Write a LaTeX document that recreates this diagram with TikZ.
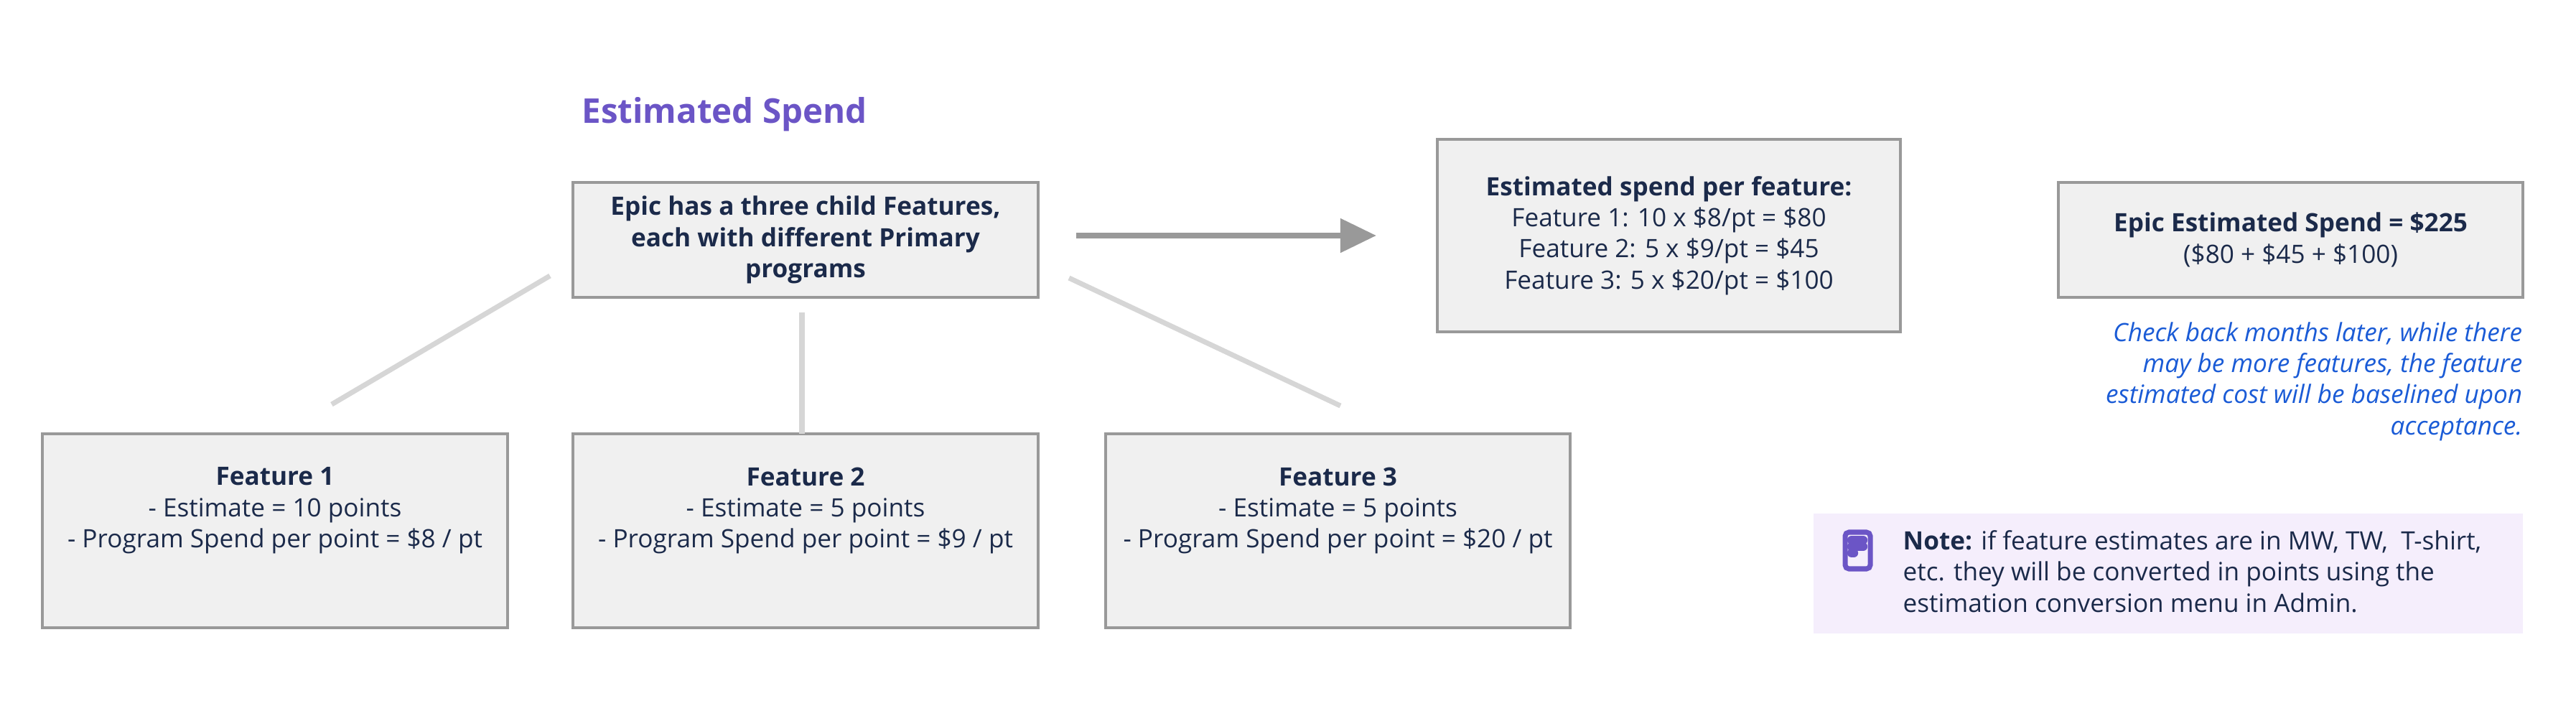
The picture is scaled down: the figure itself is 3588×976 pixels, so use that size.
\documentclass[tikz,border=0pt]{standalone}
\usepackage{fontspec}
\setmainfont{Open Sans}
\usetikzlibrary{arrows.meta}
\definecolor{ink}{HTML}{1B2A4A}
\definecolor{purp}{HTML}{6B55C6}
\definecolor{boxfill}{HTML}{F0F0F0}
\definecolor{boxline}{HTML}{999999}
\definecolor{linkc}{HTML}{D6D6D6}
\definecolor{bluet}{HTML}{1A5BD6}
\definecolor{notefill}{HTML}{F5EEFC}
\tikzset{
  box/.style={draw=boxline, line width=1.2pt, fill=boxfill, inner sep=0pt},
  txt/.style={text=ink, align=center, font=\fontsize{10}{12.3}\selectfont, inner sep=0pt},
  link/.style={draw=linkc, line width=2pt},
}
\begin{document}
\begin{tikzpicture}[x=0.01cm,y=-0.01cm]
\useasboundingbox (0,0) rectangle (3588,976);
\node[anchor=base west, text=purp, font=\fontsize{13.5}{16}\selectfont\bfseries, inner sep=0pt] (title) at (810,172) {Estimated Spend};

\node[box, minimum width=6.48cm, minimum height=1.6cm] (epic) at (1122,334) {};
\node[txt, font=\fontsize{10}{12.3}\selectfont\bfseries] (epict) at (epic) {Epic has a three child Features,\\each with different Primary\\programs};

\node[box, minimum width=6.48cm, minimum height=2.7cm] (f1) at (383,739) {};
\node[box, minimum width=6.48cm, minimum height=2.7cm] (f2) at (1122,739) {};
\node[box, minimum width=6.47cm, minimum height=2.7cm] (f3) at (1863.5,739) {};
\node[txt, anchor=north] (f1t) at (383,650) {\textbf{Feature 1}\\- Estimate = 10 points\\- Program Spend per point = \$8 / pt};
\node[txt, anchor=north] (f2t) at (1122,650) {\textbf{Feature 2}\\- Estimate = 5 points\\- Program Spend per point = \$9 / pt};
\node[txt, anchor=north] (f3t) at (1863.5,650) {\textbf{Feature 3}\\- Estimate = 5 points\\- Program Spend per point = \$20 / pt};

\coordinate (l1a) at (766,384); \coordinate (l1b) at (462,563);
\coordinate (l2a) at (1117,435); \coordinate (l2b) at (1117,604);
\coordinate (l3a) at (1489,387); \coordinate (l3b) at (1867,565);
\draw[link] (l1a) -- (l1b);
\draw[link] (l2a) -- (l2b);
\draw[link] (l3a) -- (l3b);

\coordinate (aa) at (1499,328); \coordinate (ab) at (1917,328);
\draw[draw=boxline, line width=2.3pt, -{Triangle[length=0.5cm,width=0.46cm]}] (aa) -- (ab);

\node[box, minimum width=6.45cm, minimum height=2.68cm] (est) at (2324.5,328) {};
\node[txt] (estt) at (est) {\textbf{Estimated spend per feature:}\\Feature 1: 10 x \$8/pt = \$80\\Feature 2: 5 x \$9/pt = \$45\\Feature 3: 5 x \$20/pt = \$100};

\node[box, minimum width=6.47cm, minimum height=1.6cm] (tot) at (3190.5,334) {};
\node[txt] (tott) at (tot) {\textbf{Epic Estimated Spend = \$225}\\(\$80 + \$45 + \$100)};

\node[txt, anchor=north east, align=right, text=bluet, font=\fontsize{10}{12.3}\selectfont\itshape] (check) at (3514,448) {Check back months later, while there\\may be more features, the feature\\estimated cost will be baselined upon\\acceptance.};

\node[fill=notefill, minimum width=9.88cm, minimum height=1.66cm, inner sep=0pt] (note) at (3020,798.5) {};
\node[txt, anchor=north west, align=left] (notet) at (2650,738) {\textbf{Note:} if feature estimates are in MW, TW,\ \ T-shirt,\\etc. they will be converted in points using the\\estimation conversion menu in Admin.};
\draw[purp, line width=2pt, rounded corners=1.5pt] (2570,741) rectangle (2605,792);
\draw[purp, line width=3.5pt, line cap=round] (2579,752) -- (2595,752) (2579,761) -- (2595,761) (2579,770) -- (2582,770);
\end{tikzpicture}
\end{document}
